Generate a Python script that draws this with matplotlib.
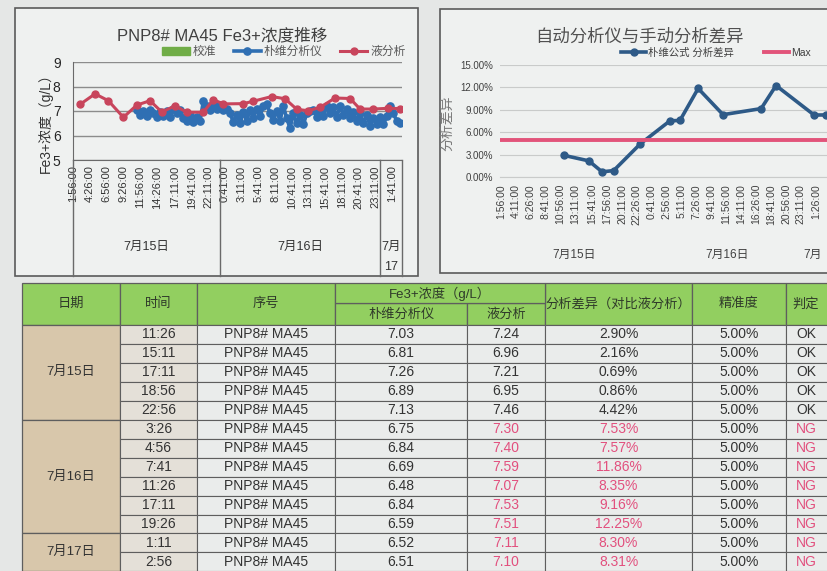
import matplotlib.pyplot as plt
from matplotlib import font_manager
from matplotlib.patches import Rectangle, Patch
import numpy as np

W, H = 827, 571

names = {f.name for f in font_manager.fontManager.ttflist}
NARROW = 'Liberation Sans Narrow' if 'Liberation Sans Narrow' in names else 'Liberation Sans'
CJK = 'Noto Sans CJK SC'
FAM = [NARROW, CJK, 'DejaVu Sans']
plt.rcParams['font.family'] = FAM


def tmin(s):
    # "15 11:26" -> minutes from 7/15 0:00
    d, hm = s.split()
    h, m = hm.split(':')
    return (int(d) - 15) * 1440 + int(h) * 60 + int(m)


# ---- left chart: Fe3+ concentration ----
red_times = ['15 2:56', '15 5:11', '15 7:11', '15 9:26', '15 11:26', '15 13:26', '15 15:11',
             '15 17:11', '15 18:56', '15 21:26', '15 22:56', '16 0:26', '16 3:26', '16 4:56',
             '16 7:41', '16 9:41', '16 11:26', '16 13:11', '16 14:56', '16 17:11', '16 19:26',
             '16 20:56', '16 22:56', '17 1:11', '17 2:56']
red_vals = [7.27, 7.70, 7.42, 6.74, 7.24, 7.42, 6.96, 7.21, 6.95, 6.95, 7.46, 7.29, 7.30, 7.40,
            7.59, 7.50, 7.07, 7.01, 7.15, 7.53, 7.51, 7.08, 7.08, 7.11, 7.10]

blue_start = '15 11:26'
blue_step = 30  # minutes between analyser readings
blue_vals = [7.05, 6.85, 7.00, 6.80, 7.05, 6.90, 6.75, 6.95, 6.80, 7.00,
             6.75, 7.10, 6.90, 7.05, 6.70, 6.60, 6.85, 6.55, 6.75, 6.60,
             7.40, 7.20, 7.05, 7.30, 7.10, 7.25, 7.05, 7.10, 6.90, 6.55,
             6.85, 6.50, 6.95, 6.60, 7.05, 6.70, 7.10, 6.80, 7.20, 7.30,
             6.90, 6.65, 7.00, 6.60, 7.20, 6.70, 6.30, 6.90, 6.50, 6.85,
             6.45, 6.90, 7.00, 7.05, 6.75, 7.10, 6.80, 7.20, 6.90, 7.15,
             6.75, 7.20, 6.85, 7.10, 6.70, 6.95, 6.60, 6.90, 6.50, 6.85,
             6.40, 6.70, 6.45, 6.75, 6.45, 6.80, 7.20, 6.90, 6.60, 6.50]

left_ticks = ['15 1:56', '15 4:26', '15 6:56', '15 9:26', '15 11:56', '15 14:26', '15 17:11',
              '15 19:41', '15 22:11', '16 0:41', '16 3:11', '16 5:41', '16 8:11', '16 10:41',
              '16 13:11', '16 15:41', '16 18:11', '16 20:41', '16 23:11', '17 1:41']

# ---- right chart / table ----
tbl_day = [15, 15, 15, 15, 15, 16, 16, 16, 16, 16, 16, 17, 17]
tbl_time = ['11:26', '15:11', '17:11', '18:56', '22:56', '3:26', '4:56', '7:41', '11:26',
            '17:11', '19:26', '1:11', '2:56']
tbl_id = ['PNP8# MA45'] * 13
pw_vals = [7.03, 6.81, 7.26, 6.89, 7.13, 6.75, 6.84, 6.69, 6.48, 6.84, 6.59, 6.52, 6.51]
liq_vals = [7.24, 6.96, 7.21, 6.95, 7.46, 7.30, 7.40, 7.59, 7.07, 7.53, 7.51, 7.11, 7.10]
diff_pct = [2.90, 2.16, 0.69, 0.86, 4.42, 7.53, 7.57, 11.86, 8.35, 9.16, 12.25, 8.30, 8.31]
precision = [5.00] * 13
max_limit = 5.0

right_ticks = ['15 1:56', '15 4:11', '15 6:26', '15 8:41', '15 10:56', '15 13:11', '15 15:41',
               '15 17:56', '15 20:11', '15 22:26', '16 0:41', '16 2:56', '16 5:11', '16 7:26',
               '16 9:41', '16 11:56', '16 14:11', '16 16:26', '16 18:41', '16 20:56',
               '16 23:11', '17 1:26']

red_t = [tmin(s) for s in red_times]
blue_t = tmin(blue_start) + blue_step * np.arange(len(blue_vals))
diff_t = [tmin(f'{d} {t}') for d, t in zip(tbl_day, tbl_time)]

fig = plt.figure(figsize=(W / 100, H / 100), dpi=100, facecolor='#e5e7e6')


def px_axes(x0, y0, x1, y1):
    return fig.add_axes([x0 / W, 1 - y1 / H, (x1 - x0) / W, (y1 - y0) / H])


bg = fig.add_axes([0, 0, 1, 1])
bg.set_xlim(0, W)
bg.set_ylim(H, 0)
bg.axis('off')

# chart panels
bg.add_patch(Rectangle((15, 8), 403, 268, fc='#eff1f0', ec='#5a5a5a', lw=1.2))
bg.add_patch(Rectangle((440, 9), 400, 264, fc='#eff1f0', ec='#5a5a5a', lw=1.2))

# ---------------- table ----------------
cols = [22, 120, 197, 335, 467, 545, 692, 786, 845]
top, sub, hbot, rh = 283, 303, 325, 18.95
green, line_c = '#92cf60', '#5e5e5e'
for i in range(len(cols) - 1):
    x0, x1 = cols[i], cols[i + 1]
    if i in (3, 4):
        bg.add_patch(Rectangle((x0, sub), x1 - x0, hbot - sub, fc=green, ec=line_c, lw=0.9))
    else:
        bg.add_patch(Rectangle((x0, top), x1 - x0, hbot - top, fc=green, ec=line_c, lw=0.9))
bg.add_patch(Rectangle((cols[3], top), cols[5] - cols[3], sub - top, fc=green, ec=line_c, lw=0.9))
hdr_font = dict(family=FAM, fontsize=9.5, color='#2f3a2a', ha='center', va='center')
for i, lab in {0: '日期', 1: '时间', 2: '序号', 5: '分析差异（对比液分析）', 6: '精准度', 7: '判定'}.items():
    bg.text((cols[i] + cols[i + 1]) / 2 if i < 7 else cols[i] + 20, (top + hbot) / 2, lab, **hdr_font)
bg.text((cols[3] + cols[5]) / 2, (top + sub) / 2 + 1, 'Fe3+浓度（g/L）', **hdr_font)
bg.text((cols[3] + cols[4]) / 2, (sub + hbot) / 2 + 1, '朴维分析仪', **hdr_font)
bg.text((cols[4] + cols[5]) / 2, (sub + hbot) / 2 + 1, '液分析', **hdr_font)

# date column (merged cells)
start = 0
for day in sorted(set(tbl_day)):
    n = tbl_day.count(day)
    y0 = hbot + start * rh
    bg.add_patch(Rectangle((cols[0], y0), cols[1] - cols[0], n * rh, fc='#d8c7ab', ec=line_c, lw=0.9))
    bg.text((cols[0] + cols[1]) / 2, y0 + n * rh / 2, f'7月{day}日', family=FAM, fontsize=9.5,
            color='#333333', ha='center', va='center')
    start += n

fills = [None, '#e4e0d8', '#eaeceb', '#eaeceb', '#eaeceb', '#eaeceb', '#eaeceb', '#eaeceb']
ng_c, ok_c = '#e2507e', '#333333'
for r in range(len(tbl_time)):
    y0 = hbot + r * rh
    ng = diff_pct[r] > precision[r]
    cells = [tbl_time[r], tbl_id[r], f'{pw_vals[r]:.2f}', f'{liq_vals[r]:.2f}',
             f'{diff_pct[r]:.2f}%', f'{precision[r]:.2f}%', 'NG' if ng else 'OK']
    colors = [ok_c, ok_c, ok_c, ng_c if ng else ok_c, ng_c if ng else ok_c, ok_c, ng_c if ng else ok_c]
    for c in range(1, 8):
        bg.add_patch(Rectangle((cols[c], y0), cols[c + 1] - cols[c], rh, fc=fills[c], ec=line_c, lw=0.8))
        cx = (cols[c] + cols[c + 1]) / 2 if c < 7 else cols[c] + 20
        bg.text(cx, y0 + rh / 2, cells[c - 1], family=FAM, fontsize=10, color=colors[c - 1],
                ha='center', va='center')

# ---------------- left chart ----------------
ax1 = px_axes(73, 62, 402, 160)
ax1.set_facecolor('none')
lb, = ax1.plot(blue_t, blue_vals, color='#2f6fb3', lw=2.6, marker='o', ms=5.2, zorder=3)
lr, = ax1.plot(red_t, red_vals, color='#c8455c', lw=2.2, marker='o', ms=5, zorder=4)
ax1.set_xlim(112.5, 3073.6)
ax1.set_ylim(5, 9)
ax1.set_yticks([5, 6, 7, 8, 9])
ax1.grid(axis='y', color='#8c8c8c', lw=1)
ax1.set_axisbelow(True)
ax1.set_xticks([tmin(s) for s in left_ticks])
ax1.set_xticklabels([s.split()[1] + ':00' for s in left_ticks], rotation=90, family='Liberation Sans',
                    fontsize=8, color='#333333')
ax1.tick_params(length=0, pad=4)
ax1.tick_params(axis='y', labelsize=10, labelcolor='#262626', pad=9)
for sp in ['top', 'right']:
    ax1.spines[sp].set_visible(False)
for sp in ['left', 'bottom']:
    ax1.spines[sp].set_color('#6a6a6a')
trans1 = ax1.get_xaxis_transform()
for t in [ax1.get_xlim()[0], 1440, 2880, ax1.get_xlim()[1]]:
    ax1.plot([t, t], [0, -1.18], transform=trans1, color='#6a6a6a', lw=1, clip_on=False)
for t, lab in [((112.5 + 1440) / 2, '7月15日'), ((1440 + 2880) / 2, '7月16日'), (2977, '7月')]:
    ax1.text(t, -0.89, lab, transform=trans1, family=FAM, fontsize=9, color='#333333',
             ha='center', va='center')
ax1.text(2977, -1.09, '17', transform=trans1, family=FAM, fontsize=9, color='#333333',
         ha='center', va='center')
ax1.legend([Patch(color='#70ad47'), lb, lr], ['校准', '朴维分析仪', '液分析'], ncol=3, frameon=False,
           loc='center', bbox_to_anchor=(284 / W, 1 - 52 / H), bbox_transform=fig.transFigure,
           prop=dict(family=FAM, size=8.5), labelcolor='#595959', handlelength=2.3,
           columnspacing=1.5, handletextpad=0.25)
fig.text(222 / W, 1 - 35 / H, 'PNP8# MA45 Fe3+浓度推移', family=FAM, fontsize=12, color='#404040',
         ha='center', va='center')
fig.text(45 / W, 1 - 120 / H, 'Fe3+浓度（g/L）', family=FAM, fontsize=10, color='#333333',
         rotation=90, ha='center', va='center')

# ---------------- right chart ----------------
ax2 = px_axes(500, 65, 840, 177)
ax2.set_facecolor('none')
ld, = ax2.plot(diff_t, diff_pct, color='#2e5a87', lw=2.6, marker='o', ms=5, zorder=3)
lm = ax2.axhline(max_limit, color='#e2547a', lw=2.8, zorder=4)
ax2.set_xlim(107, 3185)
ax2.set_ylim(0, 15)
ax2.set_yticks(np.arange(0, 16, 3))
ax2.set_yticklabels([f'{v:.2f}%' for v in np.arange(0, 16, 3)], family='Liberation Sans',
                    fontsize=7, color='#404040')
ax2.grid(axis='y', color='#c9cbca', lw=0.8)
ax2.set_axisbelow(True)
ax2.set_xticks([tmin(s) for s in right_ticks])
ax2.set_xticklabels([s.split()[1] + ':00' for s in right_ticks], rotation=90, family='Liberation Sans',
                    fontsize=7.5, color='#404040')
ax2.tick_params(length=0, pad=5)
for sp in ['top', 'right', 'left']:
    ax2.spines[sp].set_visible(False)
ax2.spines['bottom'].set_color('#c9cbca')
trans2 = ax2.get_xaxis_transform()
for t, lab in [((107 + 1440) / 2, '7月15日'), ((1440 + 2880) / 2, '7月16日'), (2940, '7月')]:
    ax2.text(t, -0.70, lab, transform=trans2, family=FAM, fontsize=8.5, color='#404040',
             ha='center', va='center')
ax2.legend([ld, lm], ['朴维公式 分析差异', 'Max'], ncol=2, frameon=False, loc='center',
           bbox_to_anchor=(716 / W, 1 - 53 / H), bbox_transform=fig.transFigure,
           prop=dict(family=FAM, size=7.5), labelcolor='#404040', handlelength=2.4,
           columnspacing=2.9, handletextpad=0.2)
fig.text(639 / W, 1 - 37 / H, '自动分析仪与手动分析差异', family=FAM, fontsize=12.5, color='#505050',
         ha='center', va='center')
fig.text(447 / W, 1 - 123 / H, '分析差异', family=FAM, fontsize=10, color='#7a7a7a',
         rotation=90, ha='center', va='center')

fig.savefig('out.png', dpi=100, facecolor=fig.get_facecolor())
